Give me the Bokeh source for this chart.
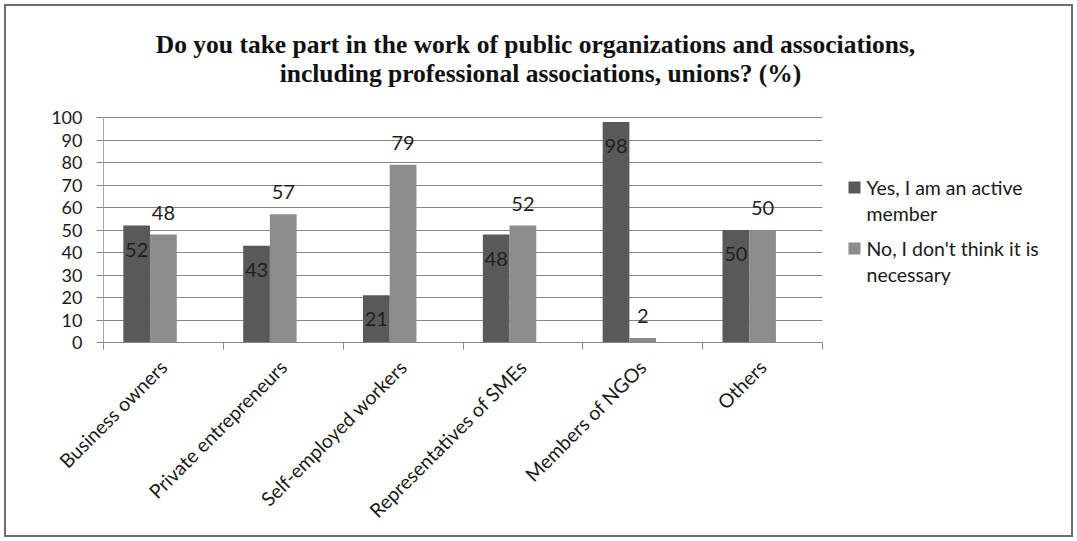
import math
from bokeh.plotting import figure
from bokeh.models import (BoxAnnotation, ColumnDataSource, FixedTicker, Label, LabelSet,
                          Range1d)
from bokeh.core.properties import value
from bokeh.embed import file_html
from bokeh.resources import INLINE

# ---- data ----
categories = ["Business owners", "Private entrepreneurs", "Self-employed workers",
              "Representatives of SMEs", "Members of NGOs", "Others"]
yes_active = [52, 43, 21, 48, 98, 50]
no_not_necessary = [48, 57, 79, 52, 2, 50]
series_names = ["Yes, I am an active\nmember", "No, I don't think it is\nnecessary"]
y_ticks = [0, 10, 20, 30, 40, 50, 60, 70, 80, 90, 100]
title_lines = ["Do you take part in the work of public organizations and associations,",
               "including professional associations, unions? (%)"]

DARK = "#595959"
LIGHT = "#8c8c8c"
GRID = "#868686"
FONT = "Lato"
TXT = "#1a1a1a"

W, H = 1077, 541
LEFT, RIGHT, TOP, BOTTOM = 103, 10, 10, 199
PLOT_W, PLOT_H = 719, 225          # size of the value/category area in pixels
FRAME_W = W - LEFT - RIGHT
FRAME_H = H - TOP - BOTTOM
n = len(categories)
y_max = y_ticks[-1]

bw = 0.223
centers = [i + 0.5 for i in range(n)]
src = ColumnDataSource(dict(
    x_no=centers,
    x_yes=[c - bw for c in centers],
    yes=yes_active,
    no=no_not_necessary,
    yes_lbl=[str(v) for v in yes_active],
    no_lbl=[str(v) for v in no_not_necessary],
))

p = figure(width=W, height=H,
           x_range=Range1d(0, n * FRAME_W / PLOT_W),
           y_range=Range1d(0, y_max * FRAME_H / PLOT_H),
           output_backend="svg", toolbar_location=None,
           min_border_left=LEFT, min_border_right=RIGHT, min_border_top=TOP,
           min_border_bottom=BOTTOM)
p.outline_line_color = None
p.background_fill_color = "white"
p.border_fill_color = "white"
p.stylesheets = [":host { position: relative; } "
                 ":host::after { content: ''; position: absolute; left: 4px; top: 4px; "
                 "right: 4px; bottom: 4px; border: 2px solid #6d6d6d; "
                 "pointer-events: none; z-index: 100; }"]

# grid
p.xgrid.visible = False
try:
    p.ygrid.cross_bounds = (0, n)
    p.ygrid.ticker = FixedTicker(ticks=y_ticks)
    p.ygrid.grid_line_color = GRID
    p.ygrid.grid_line_width = 1
except Exception:
    p.ygrid.visible = False
    p.segment(x0=[0] * len(y_ticks), x1=[n] * len(y_ticks), y0=y_ticks, y1=y_ticks,
              line_color=GRID, line_width=1, level="underlay")

# y axis
p.yaxis.bounds = (0, y_max)
p.yaxis.ticker = FixedTicker(ticks=y_ticks)
p.yaxis.axis_line_color = "#a8a8a8"
p.yaxis.major_tick_line_color = GRID
p.yaxis.major_tick_out = 7
p.yaxis.major_tick_in = 0
p.yaxis.minor_tick_line_color = None
p.yaxis.major_label_standoff = 14
p.yaxis.major_label_text_font = FONT
p.yaxis.major_label_text_font_size = "18px"
p.yaxis.major_label_text_color = TXT

# x axis
p.xaxis.bounds = (0, n)
p.xaxis.ticker = FixedTicker(ticks=centers, minor_ticks=list(range(n + 1)))
p.xaxis.major_label_overrides = {c: name for c, name in zip(centers, categories)}
p.xaxis.major_tick_line_color = None
p.xaxis.minor_tick_line_color = GRID
p.xaxis.minor_tick_out = 7
p.xaxis.minor_tick_in = 0
p.xaxis.axis_line_color = GRID
p.xaxis.major_label_orientation = math.pi / 4
p.xaxis.major_label_standoff = 14
p.xaxis.major_label_text_font = FONT
p.xaxis.major_label_text_font_size = "19.5px"
p.xaxis.major_label_text_color = TXT

# bars
p.vbar(x="x_yes", top="yes", width=bw, source=src, fill_color=DARK, line_color=None)
p.vbar(x="x_no", top="no", width=bw, source=src, fill_color=LIGHT, line_color=None)

# data labels
p.add_layout(LabelSet(x="x_yes", y="yes", text="yes_lbl", source=src, y_offset=-24,
                      text_align="center", text_baseline="middle",
                      text_font=value(FONT), text_font_size=value("20px"), text_color="#1f1f1f"))
p.add_layout(LabelSet(x="x_no", y="no", text="no_lbl", source=src, y_offset=22,
                      text_align="center", text_baseline="middle",
                      text_font=value(FONT), text_font_size=value("20px"), text_color="#1f1f1f"))

# title: two centred lines (screen offsets from the frame's bottom-left corner)
base_y = H - BOTTOM   # pixel row of the frame bottom
for txt, cx, by in zip(title_lines, [535, 540], [44, 73]):
    p.add_layout(Label(x=cx - LEFT, y=base_y - by, x_units="screen", y_units="screen",
                       text=txt, text_align="center", text_baseline="alphabetic",
                       text_font="Liberation Serif", text_font_style="bold",
                       text_font_size="25.5px", text_color="#111111"))

# legend (square aligned with the first line of each wrapped entry)
leg_x = 848 - LEFT
item_y = [base_y - 187, base_y - 248]
line_gap = 26
for name, color, yc in zip(series_names, [DARK, LIGHT], item_y):
    p.add_layout(BoxAnnotation(left=leg_x, right=leg_x + 12, bottom=yc - 6, top=yc + 6,
                               left_units="screen", right_units="screen",
                               bottom_units="screen", top_units="screen",
                               fill_color=color, fill_alpha=1, line_color=None))
    for k, line in enumerate(name.split("\n")):
        p.add_layout(Label(x=leg_x + 18, y=yc - k * line_gap, x_units="screen", y_units="screen",
                           text=line, text_align="left", text_baseline="middle",
                           text_font=FONT, text_font_size="19.5px", text_color=TXT))

open("out.html", "w").write(file_html(p, INLINE))
